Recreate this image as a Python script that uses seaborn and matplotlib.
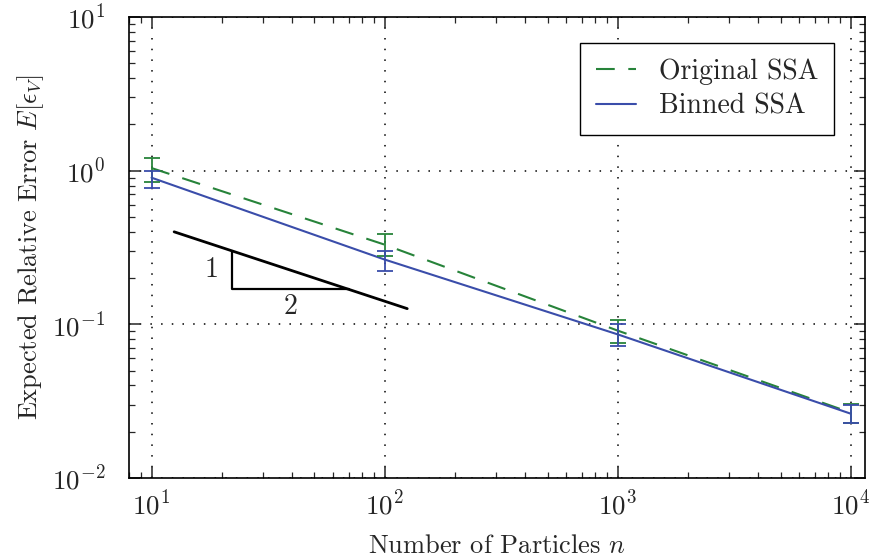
import numpy as np
import pandas as pd
import matplotlib
matplotlib.use("Agg")
import matplotlib.pyplot as plt
from matplotlib.ticker import LogLocator, NullFormatter
import seaborn as sns

# ---- data ----
n_particles = [10, 100, 1000, 10000]
series_names = ["Original SSA", "Binned SSA"]
orig_mean = [1.04, 0.33, 0.091, 0.0266]
orig_low = [0.85, 0.28, 0.076, 0.0229]
orig_high = [1.20, 0.39, 0.106, 0.0305]
binned_mean = [0.90, 0.264, 0.086, 0.0262]
binned_low = [0.77, 0.223, 0.072, 0.0229]
binned_high = [1.00, 0.300, 0.101, 0.0300]

# slope guide (slope -1/2)
guide_x = [12.5, 125.0]
guide_y = [0.40, 0.1265]
tri_x = [22.2, 70.2]
tri_y = [0.30, 0.169]
tri_labels = ["1", "2"]

colors = {"Original SSA": "#27833A", "Binned SSA": "#3A4DAA"}

sns.set_style("ticks")
plt.rcParams.update({
    "font.family": ["cmr10", "DejaVu Serif"],
    "mathtext.fontset": "cm",
    "axes.formatter.use_mathtext": True,
    "axes.unicode_minus": False,
    "xtick.direction": "in",
    "ytick.direction": "in",
    "xtick.top": True,
    "ytick.right": True,
    "axes.edgecolor": "black",
    "axes.linewidth": 1.2,
})

df = pd.DataFrame({
    "n": n_particles * 2,
    "err": orig_mean + binned_mean,
    "lo": orig_low + binned_low,
    "hi": orig_high + binned_high,
    "method": [series_names[0]] * 4 + [series_names[1]] * 4,
})

fig = plt.figure(figsize=(8.69, 5.59), dpi=100)
ax = fig.add_axes([0.1484, 0.1449, 0.8470, 0.8247])

sns.lineplot(data=df, x="n", y="err", hue="method", style="method",
             palette=colors, dashes={"Original SSA": (9, 6.5), "Binned SSA": ""},
             linewidth=1.5, ax=ax, legend=True)

for name in series_names:
    sub = df[df["method"] == name]
    ax.errorbar(sub["n"], sub["err"],
                yerr=[sub["err"] - sub["lo"], sub["hi"] - sub["err"]],
                fmt="none", ecolor=colors[name], elinewidth=1.3,
                capsize=6, capthick=1.3, zorder=3)

# slope triangle
ax.plot(guide_x, guide_y, color="black", lw=2)
ax.plot([tri_x[0], tri_x[0], tri_x[1]], [tri_y[0], tri_y[1], tri_y[1]],
        color="black", lw=1.6)
ax.text(tri_x[0] * 0.87, np.sqrt(tri_y[0] * tri_y[1]), tri_labels[0],
        ha="right", va="center", fontsize=20)
ax.text(np.sqrt(tri_x[0] * tri_x[1]), tri_y[1] * 0.93, tri_labels[1],
        ha="center", va="top", fontsize=20)

ax.set_xscale("log")
ax.set_yscale("log")
ax.set_xlim(8.0, 1.15e4)
ax.set_ylim(1e-2, 1e1)
ax.xaxis.set_minor_locator(LogLocator(base=10, subs=np.arange(2, 10)))
ax.yaxis.set_minor_locator(LogLocator(base=10, subs=np.arange(2, 10)))
ax.xaxis.set_minor_formatter(NullFormatter())
ax.yaxis.set_minor_formatter(NullFormatter())
ax.tick_params(which="major", length=8, width=1.1, labelsize=19.5)
ax.tick_params(axis="x", which="major", pad=9)
ax.tick_params(axis="y", which="major", pad=17)
ax.tick_params(which="minor", length=4, width=0.9)
ax.grid(True, which="major", color="black", linestyle=(0, (1, 6)), linewidth=1.1)

ax.set_xlabel(r"Number of Particles $n$", fontsize=19, labelpad=10)
ax.set_ylabel(r"Expected Relative Error $E[\epsilon_V]$", fontsize=19, labelpad=4)

leg = ax.legend(loc="upper right", fontsize=20, frameon=True, fancybox=False,
                edgecolor="black", framealpha=1, borderpad=0.55,
                handlelength=1.45, handletextpad=0.85, labelspacing=0.3,
                borderaxespad=0, bbox_to_anchor=(0.958, 0.944))
leg.get_frame().set_linewidth(1.0)

fig.savefig("out.png", dpi=100)
